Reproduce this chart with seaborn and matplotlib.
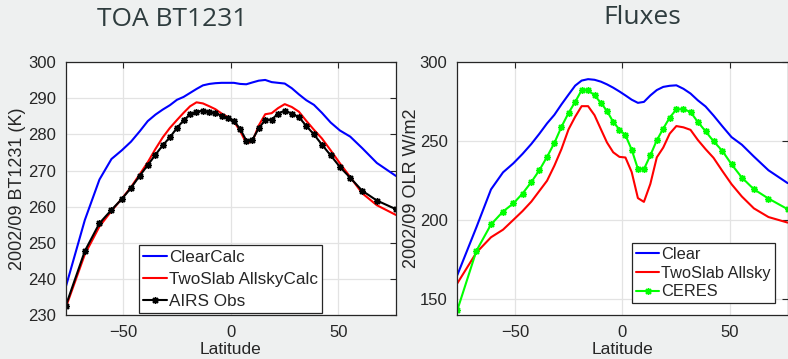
import numpy as np
import pandas as pd
import seaborn as sns
import matplotlib.pyplot as plt

# latitude bin centres (equal-area bands)
lat = [-76.9, -68.0, -61.2, -55.6, -50.8, -46.5, -42.4, -38.7, -35.1, -31.7,
       -28.4, -25.1, -22.0, -19.0, -16.0, -13.0, -10.0, -7.2, -4.3, -1.4,
       1.4, 4.3, 7.2, 10.0, 13.0, 16.0, 19.0, 22.0, 25.1, 28.4,
       31.7, 35.1, 38.7, 42.4, 46.5, 50.8, 55.6, 61.2, 68.0, 76.9]

# TOA BT1231 (K)
bt_clear = [237.7, 256.3, 267.5, 273.2, 275.6, 278.0, 280.9, 283.7, 285.5, 286.9,
            288.1, 289.6, 290.4, 291.5, 292.6, 293.6, 294.0, 294.2, 294.3, 294.3,
            294.3, 294.0, 293.9, 294.4, 294.9, 295.1, 294.5, 294.3, 294.1, 292.8,
            291.1, 289.5, 288.2, 286.0, 283.3, 281.1, 279.4, 276.2, 272.1, 268.5]
bt_twoslab = [232.0, 246.8, 254.5, 258.8, 262.2, 265.4, 269.0, 272.3, 276.0, 279.2,
              281.8, 284.0, 286.0, 287.8, 288.9, 288.6, 287.8, 287.0, 285.8, 284.8,
              283.6, 281.0, 277.6, 278.0, 282.5, 285.6, 285.9, 287.3, 288.4, 287.6,
              286.3, 283.8, 281.3, 278.9, 275.6, 272.0, 268.2, 263.7, 260.4, 257.7]
bt_airs = [232.5, 247.7, 255.4, 259.1, 262.1, 265.2, 268.6, 271.5, 274.4, 277.0,
           279.2, 281.8, 283.9, 285.6, 286.3, 286.6, 286.3, 285.9, 285.2, 284.6,
           283.7, 281.6, 278.3, 278.5, 281.7, 284.0, 284.1, 285.8, 286.6, 285.8,
           284.8, 282.4, 280.0, 277.2, 274.2, 271.0, 268.0, 264.4, 261.7, 259.3]

# OLR (W/m2)
olr_clear = [165.2, 195.5, 219.5, 230.3, 236.0, 242.0, 248.3, 254.7, 261.3, 266.7,
             273.3, 279.5, 285.2, 288.4, 289.3, 288.9, 287.7, 286.0, 283.9, 281.5,
             279.0, 276.3, 274.3, 274.9, 279.0, 282.4, 284.4, 285.1, 285.4, 283.2,
             280.2, 275.9, 272.0, 266.3, 259.5, 252.6, 247.8, 240.3, 231.6, 223.5]
olr_twoslab = [160.0, 179.5, 189.2, 194.0, 200.2, 205.8, 211.8, 218.5, 225.0, 234.5,
               245.0, 257.5, 265.5, 272.2, 272.2, 266.5, 257.5, 249.2, 243.0, 240.1,
               239.7, 230.5, 214.0, 211.6, 223.0, 239.8, 246.0, 254.8, 259.6, 258.8,
               257.2, 250.8, 245.0, 239.5, 231.2, 222.8, 215.0, 207.5, 202.0, 198.5]
olr_ceres = [143.0, 180.6, 197.3, 205.5, 210.6, 216.9, 224.2, 231.6, 240.1, 248.9,
             259.1, 267.9, 274.9, 282.3, 282.3, 279.1, 274.2, 269.2, 262.2, 257.4,
             253.8, 244.7, 232.5, 232.3, 241.1, 250.6, 258.0, 265.0, 270.1, 270.4,
             268.5, 262.2, 256.3, 250.0, 243.9, 235.4, 227.0, 219.6, 213.7, 207.0]

sns.set_theme(style='whitegrid')
plt.rcParams['font.family'] = ['Liberation Sans', 'DejaVu Sans']

bg = '#eef0f0'
ink = '#262626'
fig = plt.figure(figsize=(7.88, 3.59), dpi=100, facecolor=bg)
ax1 = fig.add_axes([0.0834, 0.1226, 0.4191, 0.704])
ax2 = fig.add_axes([0.5803, 0.1226, 0.4192, 0.704])

star = (8, 2, 0)
line_kw = dict(lw=1.5, linestyle='-')


def mark_kw(c):
    # seaborn whitens marker edges by default; asterisks are edge-only
    return dict(marker=star, markersize=5, markeredgewidth=1.0,
                markeredgecolor=c, markerfacecolor=c)


# left panel
sns.lineplot(x=lat, y=bt_clear, color='#0000ff', label='ClearCalc', ax=ax1, **line_kw)
sns.lineplot(x=lat, y=bt_twoslab, color='#ff0000', label='TwoSlab AllskyCalc', ax=ax1, **line_kw)
sns.lineplot(x=lat, y=bt_airs, color='black', label='AIRS Obs', ax=ax1,
             **line_kw, **mark_kw('black'))
ax1.set_ylim(230, 300)
ax1.set_yticks(np.arange(230, 301, 10))
ax1.set_ylabel('2002/09 BT1231 (K)', fontsize=13, color=ink)
ax1.yaxis.set_label_coords(-0.12, 0.5)

# right panel
sns.lineplot(x=lat, y=olr_clear, color='#0000ff', label='Clear', ax=ax2, **line_kw)
sns.lineplot(x=lat, y=olr_twoslab, color='#ff0000', label='TwoSlab Allsky', ax=ax2, **line_kw)
sns.lineplot(x=lat, y=olr_ceres, color='#00ff00', label='CERES', ax=ax2,
             **line_kw, **mark_kw('#00ff00'))
ax2.set_ylim(140, 300)
ax2.set_yticks([150, 200, 250, 300])
ax2.set_ylabel('2002/09 OLR W/m2', fontsize=13, color=ink)
ax2.yaxis.set_label_coords(-0.113, 0.5)

legs = [(ax1, (0.222, 0.007), 12.3, 0.42), (ax2, (0.530, 0.046), 11.8, 0.22)]
for ax, anchor, fs, sp in legs:
    ax.set_facecolor('white')
    ax.set_xlim(lat[0], lat[-1])
    ax.set_xticks([-50, 0, 50])
    ax.set_xlabel('Latitude', fontsize=12.5, color=ink)
    ax.xaxis.set_label_coords(0.5, -0.105)
    ax.tick_params(direction='in', length=4, width=0.8, colors=ink,
                   labelsize=12, top=True, right=True, pad=7)
    ax.grid(True, color='#e3e3e3', lw=0.9)
    for s in ax.spines.values():
        s.set_color(ink)
        s.set_linewidth(0.9)
    leg = ax.legend(loc='lower left', bbox_to_anchor=anchor, borderaxespad=0,
                    fontsize=fs, frameon=True, fancybox=False, framealpha=1,
                    handlelength=1.4, handletextpad=0.1, borderpad=0.25,
                    labelspacing=sp)
    leg.get_frame().set_edgecolor(ink)
    leg.get_frame().set_linewidth(0.9)

fig.text(0.219, 0.945, 'TOA BT1231', ha='center', va='center', fontsize=19,
         color='#2e3c3e', family=['Open Sans', 'DejaVu Sans'])
fig.text(0.815, 0.95, 'Fluxes', ha='center', va='center', fontsize=19,
         color='#2e3c3e', family=['Open Sans', 'DejaVu Sans'])

fig.savefig('out.png', dpi=100, facecolor=bg)
